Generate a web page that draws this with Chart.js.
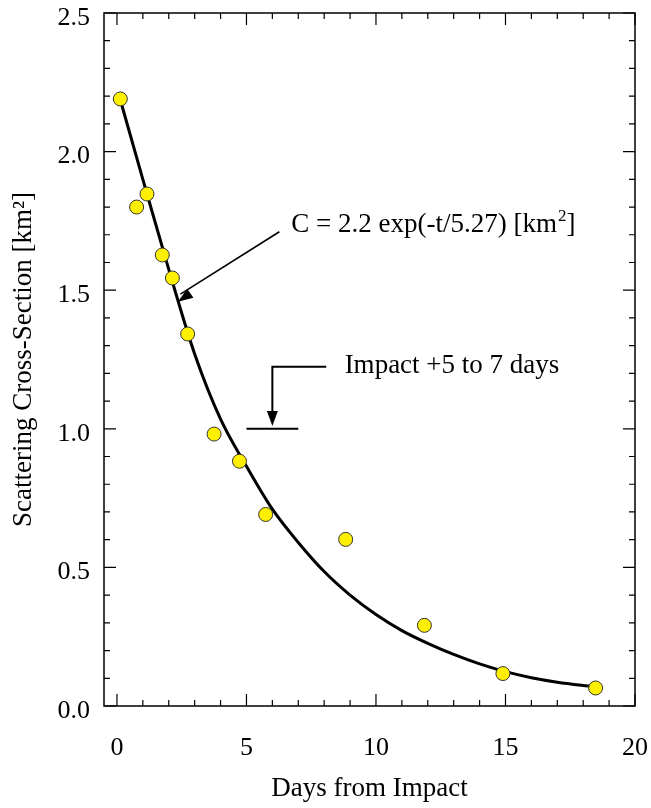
<!DOCTYPE html>
<html>
<head>
<meta charset="utf-8">
<script src="https://cdn.jsdelivr.net/npm/chart.js@4"></script>
<style>
  body { margin: 0; background: #fff; }
</style>
</head>
<body>
<canvas id="decayChart" width="651" height="808"></canvas>
<script>
// measured points (days after impact, km^2)
const obsDays = [0.13, 0.76, 1.16, 1.75, 2.14, 2.73, 3.75, 4.73, 5.74, 8.83, 11.87, 14.9, 18.48];
const obsValues = [2.19, 1.80, 1.847, 1.627, 1.544, 1.342, 0.981, 0.883, 0.691, 0.601, 0.291, 0.117, 0.065];

// fitted curve
const curveDays = [0.12, 1, 2, 3, 4, 5, 6, 7, 8, 9, 10, 11, 12, 13, 14, 15, 16, 17, 18.4];
const curveValues = [2.19, 1.90, 1.575, 1.27, 1.035, 0.865, 0.71, 0.59, 0.485, 0.40, 0.33, 0.272, 0.226, 0.186, 0.152, 0.124, 0.102, 0.086, 0.07];

const xTickLabels = [0, 5, 10, 15, 20];
const yTickLabels = ['0.0', '0.5', '1.0', '1.5', '2.0', '2.5'];

const serif = 'Liberation Serif';

// frame + inward ticks on all four sides
const frameTicks = {
    id: 'frameTicks',
    afterDraw(chart) {
        const ctx = chart.ctx;
        const a = chart.chartArea;
        const xs = chart.scales.x;
        const ys = chart.scales.y;
        ctx.save();
        ctx.strokeStyle = '#000';
        ctx.lineWidth = 1.5;
        ctx.strokeRect(a.left, a.top, a.right - a.left, a.bottom - a.top);
        ctx.lineWidth = 1.2;
        ctx.beginPath();
        for (let d = 0; d <= 20; d++) {
            const px = xs.getPixelForValue(d);
            const len = d % 5 == 0 ? 12 : 6;
            ctx.moveTo(px, a.bottom); ctx.lineTo(px, a.bottom - len);
            ctx.moveTo(px, a.top); ctx.lineTo(px, a.top + len);
        }
        for (let k = 0; k <= 25; k++) {
            const py = ys.getPixelForValue(k / 10);
            const len = k % 5 == 0 ? 12 : 6;
            ctx.moveTo(a.left, py); ctx.lineTo(a.left + len, py);
            ctx.moveTo(a.right, py); ctx.lineTo(a.right - len, py);
        }
        ctx.stroke();
        ctx.restore();
    }
};

function arrowHead(ctx, x0, y0, x1, y1) {
    const ang = Math.atan2(y1 - y0, x1 - x0);
    const L = 15, W = 5.5;
    ctx.beginPath();
    ctx.moveTo(x1, y1);
    ctx.lineTo(x1 - L * Math.cos(ang) + W * Math.sin(ang), y1 - L * Math.sin(ang) - W * Math.cos(ang));
    ctx.lineTo(x1 - L * Math.cos(ang) - W * Math.sin(ang), y1 - L * Math.sin(ang) + W * Math.cos(ang));
    ctx.closePath();
    ctx.fill();
}

// text labels and arrows, placed in data units
const notes = {
    id: 'notes',
    afterDatasetsDraw(chart) {
        const ctx = chart.ctx;
        const X = v => chart.scales.x.getPixelForValue(v);
        const Y = v => chart.scales.y.getPixelForValue(v);
        ctx.save();
        ctx.fillStyle = '#000';
        ctx.strokeStyle = '#000';
        ctx.textBaseline = 'alphabetic';
        ctx.textAlign = 'left';

        // fit formula
        ctx.font = '27px ' + serif;
        let tx = X(6.73), ty = Y(1.71);
        const part1 = 'C = 2.2 exp(-t/5.27) [km';
        ctx.fillText(part1, tx, ty);
        tx += ctx.measureText(part1).width;
        ctx.font = '17px ' + serif;
        ctx.fillText('2', tx + 1, ty - 11);
        tx += ctx.measureText('2').width + 1;
        ctx.font = '27px ' + serif;
        ctx.fillText(']', tx, ty);

        ctx.lineWidth = 1.6;
        ctx.beginPath();
        ctx.moveTo(X(6.27), Y(1.711));
        ctx.lineTo(X(2.45), Y(1.486));
        ctx.stroke();
        arrowHead(ctx, X(6.27), Y(1.711), X(2.355), Y(1.458));

        // impact window marker
        ctx.lineWidth = 2;
        ctx.beginPath();
        ctx.moveTo(X(8.08), Y(1.224));
        ctx.lineTo(X(6), Y(1.224));
        ctx.lineTo(X(6), Y(1.06));
        ctx.moveTo(X(5), Y(1.0));
        ctx.lineTo(X(7), Y(1.0));
        ctx.stroke();
        arrowHead(ctx, X(6), Y(1.224), X(6), Y(1.01));

        ctx.font = '27px ' + serif;
        ctx.fillText('Impact +5 to 7 days', X(8.79), Y(1.2));
        ctx.restore();
    }
};

const obsPoints = obsDays.map((d, i) => ({x: d, y: obsValues[i]}));
const curvePoints = curveDays.map((d, i) => ({x: d, y: curveValues[i]}));

const config = {
    type: 'scatter',
    data: {
        datasets: [{
            label: 'observed',
            data: obsPoints,
            backgroundColor: '#ffef00',
            borderColor: '#333',
            borderWidth: 1,
            pointRadius: 7,
            order: 0
        }, {
            type: 'line',
            label: 'fit',
            data: curvePoints,
            borderColor: '#000',
            borderWidth: 3,
            pointRadius: 0,
            fill: false,
            cubicInterpolationMode: 'monotone',
            order: 1
        }]
    },
    options: {
        responsive: false,
        animation: false,
        devicePixelRatio: 1,
        layout: { padding: { top: 13, right: 16, left: 0, bottom: 0 } },
        plugins: {
            legend: { display: false },
            tooltip: { enabled: false }
        },
        scales: {
            x: {
                type: 'linear',
                min: -0.5,
                max: 20,
                afterBuildTicks: s => { s.ticks = xTickLabels.map(v => ({value: v})); },
                afterFit: s => {
                    s.height = 102;
                    s.paddingLeft = 0; s.paddingRight = 0;
                },
                grid: { display: false, drawTicks: false },
                border: { display: false },
                ticks: {
                    padding: 27,
                    color: '#000',
                    font: { family: serif, size: 26 },
                    callback: v => String(v)
                },
                title: {
                    display: true,
                    text: 'Days from Impact',
                    color: '#000',
                    font: { family: serif, size: 27 },
                    padding: { top: 0, bottom: 3 }
                }
            },
            y: {
                type: 'linear',
                min: 0,
                max: 2.5,
                afterBuildTicks: s => { s.ticks = yTickLabels.map(v => ({value: parseFloat(v)})); },
                afterFit: s => {
                    s.width = 104;
                    s.paddingTop = 0; s.paddingBottom = 0;
                },
                grid: { display: false, drawTicks: false },
                border: { display: false },
                ticks: {
                    padding: 14,
                    labelOffset: 5,
                    color: '#000',
                    font: { family: serif, size: 26 },
                    callback: v => yTickLabels[Math.round(v * 2)]
                },
                title: {
                    display: true,
                    text: 'Scattering Cross-Section [km²]',
                    color: '#000',
                    font: { family: serif, size: 27 },
                    padding: { top: 8, bottom: 0 }
                }
            }
        }
    },
    plugins: [frameTicks, notes]
};

const decayChart = new Chart(document.getElementById('decayChart').getContext('2d'), config);
</script>
</body>
</html>
